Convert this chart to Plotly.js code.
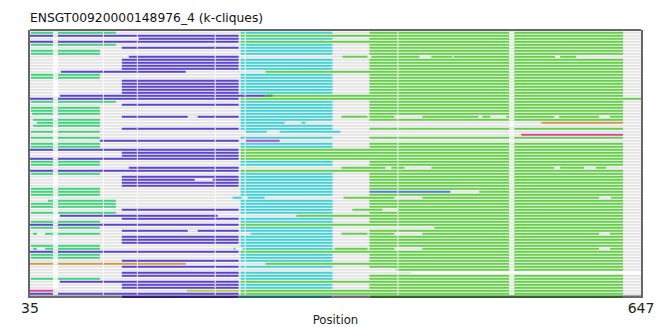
<!DOCTYPE html>
<html>
<head>
<meta charset="utf-8">
<script src="https://cdn.plot.ly/plotly-3.0.1.min.js"></script>
<style>html,body{margin:0;padding:0;background:#fff;}#chart{width:672px;height:327px;}</style>
</head>
<body>
<div id="chart"></div>
<script>
// ---------------- data ----------------
const chartTitle = "ENSGT00920000148976_4 (k-cliques)";
const xTickVals = [35, 647];
const nRows = 88;
// background (sequence extent) per row: default [35,647]
const bgDefault = [35, 647];
const bgSpecial = [[80, 35, 417]];

// clique 1 (mint)
const mintSegs = [[0,36,121],[4,36,121],[6,36,105],[7,36,105],[14,36,105],[15,36,105],[23,36,121],[25,36,105],[26,36,105],[27,37,105],[29,38,105],[30,42,105],[31,38,105],[33,36,105],[35,36,105],[37,36,105],[38,36,105],[43,36,105],[44,36,105],[47,36,105],[52,36,105],[53,36,105],[54,36,105],[56,53,121],[57,36,121],[58,36,121],[60,36,121],[63,36,105],[65,36,105],[67,38,105],[71,36,105],[72,38,105],[74,36,105],[75,36,105],[82,36,105]];
// clique 2 (purple)
const purpleRowsStd = [5,9,10,11,12,16,17,18,19,20,24,28,32,40,41,48,49,50,51,59,62,66,68,69,70,76,78,80,81,84,85];
const purpleStd = [127, 244];
const purpleSegs = [[1,35,244],[2,144,244],[3,35,244],[8,134,244],[13,66,191],[21,65,271],[22,35,244],[36,105,244],[39,35,244],[42,35,244],[45,134,244],[46,35,244],[61,65,223],[64,35,244],[73,35,244],[83,65,244],[87,35,244]];
// clique 3 (cyan)
const cyanRowsStd = [0,2,4,5,6,7,9,10,11,12,14,15,16,17,18,19,20,23,24,25,26,27,28,29,31,32,35,37,38,43,44,47,48,49,50,51,52,53,54,56,57,58,59,60,62,63,65,66,68,69,70,71,74,75,76,78,80,81,82,84,85];
const cyanStd = [246, 338];
const cyanSegs = [[30,246,290],[30,307,311],[33,251,272],[33,285,346],[55,238,247],[55,253,270],[67,256,338],[72,239,338]];
// clique 4 (lime)
const limeRowsStd = [0,2,4,5,6,7,9,10,11,12,14,15,16,17,18,19,20,23,24,25,26,27,29,32,35,37,38,43,44,47,48,49,50,51,52,54,56,57,58,60,62,63,66,68,69,70,71,74,75,76,78,81,82,84,85];
const limeStd = [375, 629];
const limeRowsFull = [1,3,39,40,41,42,46,64,73,83,86,87];
const limeFull = [246, 629];
const limeSegs = [[22,246,647],[8,348,373],[8,377,425],[8,437,582],[13,271,629],[21,271,629],
  [28,347,373],[28,375,400],[28,428,484],[28,488,496],[28,512,560],[28,565,605],[28,616,629],
  [45,347,391],[45,397,410],[45,437,560],[45,566,590],[45,602,612],[53,485,629],
  [55,349,400],[55,428,605],[55,617,629],[59,358,388],[59,403,629],[61,302,629],[65,440,629],
  [67,347,373],[67,375,400],[67,428,605],[67,616,629],[72,340,373],[72,375,400],[72,428,605],[72,616,629],
  [77,271,629],[79,402,629]];
// minor cliques
const darkGreenSegs = [[21,271,278]];
const orangeSegs = [[30,547,629],[77,35,191]];
const pinkSegs = [[34,527,629],[86,35,62]];
const violetSegs = [[36,251,285]];
const oliveSegs = [[86,192,244]];
const blueSegs = [[53,375,456]];
// alignment gap columns (all rows) and row-specific gaps
const gapCols = [[58,63],[108,109],[142,143],[220,221],[250,251],[403,404],[515,520]];
const gapSegs = [[28,193,203],[49,200,218],[66,193,203],[8,458,459],[8,561,566],[67,42,50],[72,42,50],[72,241,248]];
// consensus row
const consRow = 88;
const consStart = [35,127,244,338,375,629];
const consEnd   = [127,244,338,375,629,647];
const consClique = ["none","c2","c3","none","c4","none"];

// ---------------- build ----------------
function toXY(segs){
  const x=[], y=[];
  segs.forEach(s=>{ x.push(s[1], s[2], null); y.push(s[0], s[0], null); });
  return {x, y};
}
function rowsToSegs(rows, rng){ return rows.map(r=>[r, rng[0], rng[1]]); }
const W = 2;
function tr(segs, color, width){
  const d = toXY(segs);
  return {type:'scatter', mode:'lines', x:d.x, y:d.y, hoverinfo:'skip', showlegend:false,
          line:{color:color, width:width||W}};
}
const bgSegs = [];
for (let r=0; r<nRows; r++){
  const sp = bgSpecial.find(s=>s[0]===r);
  bgSegs.push(sp ? sp : [r, bgDefault[0], bgDefault[1]]);
}
const allGaps = [];
for (let r=0; r<nRows; r++) gapCols.forEach(g=>allGaps.push([r, g[0], g[1]]));
gapSegs.forEach(g=>allGaps.push(g));

const consColors = {none:'#6b6b6b', c2:'#2c2470', c3:'#1d6a6a', c4:'#2c6a1e'};
const consTraces = consStart.map((s,i)=>tr([[consRow, s, consEnd[i]]], consColors[consClique[i]], 2.6));

const data = [
  tr(bgSegs, '#e3e3e3'),
  tr(mintSegs, '#43d17d'),
  tr(rowsToSegs(purpleRowsStd, purpleStd).concat(purpleSegs), '#5a45cc'),
  tr(rowsToSegs(cyanRowsStd, cyanStd).concat(cyanSegs), '#44d1d6'),
  tr(rowsToSegs(limeRowsStd, limeStd).concat(rowsToSegs(limeRowsFull, limeFull)).concat(limeSegs), '#66cf48'),
  tr(darkGreenSegs, '#3f9e3a'),
  tr(orangeSegs, '#d49a48'),
  tr(pinkSegs, '#d4489e'),
  tr(violetSegs, '#b64ad6'),
  tr(oliveSegs, '#b9cf3c'),
  tr(blueSegs, '#4d7fd4'),
  tr(allGaps, '#ffffff'),
].concat(consTraces);

const layout = {
  width:672, height:327,
  margin:{l:30, r:31, t:30, b:29, pad:0},
  paper_bgcolor:'#fff', plot_bgcolor:'#fff',
  font:{family:'DejaVu Sans, sans-serif', color:'#222'},
  title:{text:chartTitle, x:30/672, xref:'container', xanchor:'left', y:1-18/327, yref:'container', yanchor:'middle',
         font:{size:12.3, family:'DejaVu Sans', color:'#111'}},
  xaxis:{range:[35,647], tickvals:xTickVals, ticktext:xTickVals.map(String), ticks:'', showgrid:false, zeroline:false,
         showline:false, tickfont:{size:14, family:'DejaVu Sans', color:'#222'}, automargin:false,
         title:{text:'Position', font:{size:13, family:'Liberation Sans Narrow, DejaVu Sans Condensed, DejaVu Sans', color:'#222'}, standoff:4}},
  yaxis:{range:[88.43,-0.9], showticklabels:false, ticks:'', showgrid:false, zeroline:false,
         showline:true, mirror:true, linecolor:'#666', linewidth:2, automargin:false},
  shapes:[{type:'line', xref:'paper', yref:'paper', x0:0, x1:1, y0:1, y1:1, line:{color:'#666', width:2}}]
};
Plotly.newPlot('chart', data, layout, {staticPlot:true, displayModeBar:false});
</script>
</body>
</html>
